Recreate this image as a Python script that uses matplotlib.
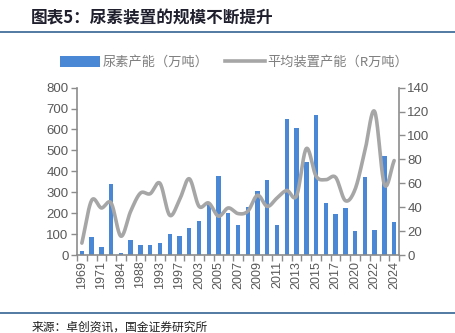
import numpy as np
import matplotlib
matplotlib.use("Agg")
import matplotlib.pyplot as plt
from matplotlib.lines import Line2D
from matplotlib.patches import Patch

plt.rcParams['font.family'] = ['Noto Sans CJK SC', 'DejaVu Sans']

years = ["1969", "1970", "1971", "1979", "1984", "1986", "1988", "1990", "1993", "1995",
         "1997", "2000", "2003", "2004", "2005", "2006", "2007", "2008", "2009", "2010",
         "2011", "2012", "2013", "2014", "2015", "2016", "2017", "2018", "2020", "2021",
         "2022", "2023", "2024"]
capacity = [18, 88, 40, 340, 12, 70, 50, 50, 60, 100,
            90, 128, 165, 250, 380, 200, 143, 228, 308, 360,
            143, 651, 606, 446, 669, 251, 194, 223, 114, 371,
            120, 474, 160]
avg_capacity = [10, 45.7, 39.4, 43.5, 15.8, 36.6, 51.8, 51.3, 60, 33.3,
                46, 63.8, 40.8, 43.5, 32.5, 39.4, 34.7, 36.6, 50, 40.7,
                47.7, 54, 49.6, 89, 66, 63, 65, 45.5, 55, 87,
                120, 59, 79]

bar_color = "#4a88d6"
line_color = "#a6a6a6"
axis_color = "#8c8c8c"
text_color = "#595959"


def smooth(xs, ys, n=20):
    xs = np.asarray(xs, float)
    ys = np.asarray(ys, float)
    px = np.concatenate([[2 * xs[0] - xs[1]], xs, [2 * xs[-1] - xs[-2]]])
    py = np.concatenate([[2 * ys[0] - ys[1]], ys, [2 * ys[-1] - ys[-2]]])
    outx, outy = [], []
    t = np.linspace(0, 1, n, endpoint=False)
    for i in range(1, len(px) - 2):
        p0, p1, p2, p3 = (np.array([px[j], py[j]]) for j in range(i - 1, i + 3))
        c1 = p1 + (p2 - p0) / 6
        c2 = p2 - (p3 - p1) / 6
        bx = ((1 - t) ** 3) * p1[0] + 3 * ((1 - t) ** 2) * t * c1[0] + 3 * (1 - t) * t ** 2 * c2[0] + t ** 3 * p2[0]
        by = ((1 - t) ** 3) * p1[1] + 3 * ((1 - t) ** 2) * t * c1[1] + 3 * (1 - t) * t ** 2 * c2[1] + t ** 3 * p2[1]
        outx.extend(bx)
        outy.extend(by)
    outx.append(xs[-1])
    outy.append(ys[-1])
    return np.array(outx), np.array(outy)


fig = plt.figure(figsize=(4.55, 3.33), dpi=100)
ax = fig.add_axes([0.1692, 0.234, 0.7078, 0.503])
ax2 = ax.twinx()

x = np.arange(len(years))
ax.bar(x, capacity, width=0.45, color=bar_color, zorder=2)
sx, sy = smooth(x, avg_capacity)
ax2.plot(sx, sy, color=line_color, lw=2.6, solid_capstyle='round', zorder=3)

ax.set_xlim(-0.5, len(years) - 0.5)
ax.set_ylim(0, 800)
ax.set_yticks(np.arange(0, 801, 100))
ax2.set_ylim(0, 140)
ax2.set_yticks(np.arange(0, 141, 20))

ax.set_xticks(x[::2])
ax.set_xticklabels(years[::2], rotation=90)
ax.set_xticks(np.arange(-0.5, len(years), 1), minor=True)

for a in (ax, ax2):
    a.spines['top'].set_visible(False)
    for s in ['left', 'right', 'bottom']:
        a.spines[s].set_color(axis_color)
        a.spines[s].set_linewidth(1.2)
ax.spines['right'].set_visible(False)
ax2.spines['left'].set_visible(False)
ax2.spines['bottom'].set_visible(False)

ax.tick_params(axis='x', which='major', length=0, pad=4, labelsize=9, labelcolor=text_color)
ax.tick_params(axis='x', which='minor', length=4, width=1, color=axis_color, direction='out')
ax.tick_params(axis='y', length=4, width=1, color=axis_color, labelsize=9.5, labelcolor=text_color, pad=2)
ax2.tick_params(axis='y', length=4, width=1, color=axis_color, labelsize=9.5, labelcolor=text_color, pad=2)
for lab in ax.get_xticklabels() + ax.get_yticklabels() + ax2.get_yticklabels():
    lab.set_family(['Liberation Sans', 'DejaVu Sans'])

handles = [Patch(facecolor=bar_color, edgecolor='none'),
           Line2D([0], [0], color=line_color, lw=2.6)]
fig.legend(handles, ["尿素产能（万吨）", "平均装置产能（R万吨）"],
           loc='center', bbox_to_anchor=(0.515, 0.812), ncol=2, frameon=False,
           fontsize=9.5, labelcolor="#7f7f7f", handlelength=3.0, handleheight=0.9,
           columnspacing=1.3, handletextpad=0.2)

fig.text(0.068, 0.945, "图表5：尿素装置的规模不断提升", fontsize=12, fontweight='bold',
         color="#1f1f2e", va='center', ha='left', style='italic')
fig.add_artist(Line2D([0, 1], [0.905, 0.905], color="#44709a", lw=1.3, transform=fig.transFigure))
fig.add_artist(Line2D([0, 1], [0.06, 0.06], color="#44709a", lw=1.3, transform=fig.transFigure))
fig.text(0.07, 0.018, "来源：卓创资讯，国金证券研究所", fontsize=8.5, color="#1f1f1f",
         va='center', ha='left')

fig.savefig("out.png", dpi=100)
